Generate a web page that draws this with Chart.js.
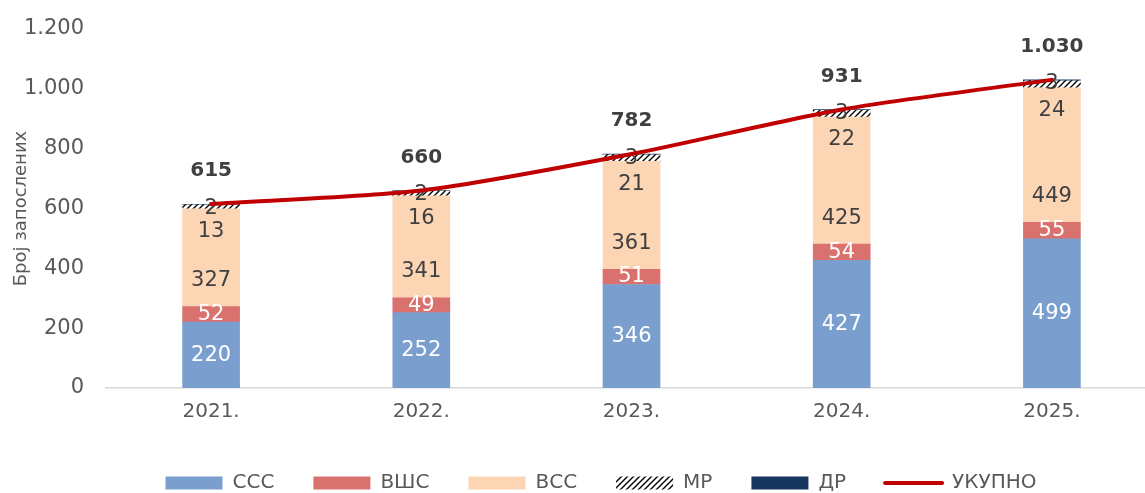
<!DOCTYPE html>
<html>
<head>
<meta charset="utf-8">
<script src="https://cdn.jsdelivr.net/npm/chart.js@4.4.1/dist/chart.umd.min.js"></script>
<style>
html, body { margin: 0; padding: 0; background: #fff; overflow: hidden; }
#wrap { width: 1160px; height: 493px; }
</style>
</head>
<body>
<div id="wrap"><canvas id="chart" width="1160" height="493"></canvas></div>
<script>
// values
var years = ['2021.', '2022.', '2023.', '2024.', '2025.'];
var sss = [220, 252, 346, 427, 499];     // ССС
var vshs = [52, 49, 51, 54, 55];         // ВШС
var vss = [327, 341, 361, 425, 449];     // ВСС
var mr = [13, 16, 21, 22, 24];           // МР
var dr = [2, 2, 3, 3, 3];                // ДР
var total = [615, 660, 782, 931, 1030];  // УКУПНО

var FONT = 'DejaVu Sans';
var GREY = '#595959';
var DARK = '#404040';

// 1030 -> "1.030"
function fmt(v) {
    return String(v).replace(/\B(?=(\d{3})+(?!\d))/g, '.');
}

// hatched fill for МР
function makeHatch(ctx) {
    var tile = document.createElement('canvas');
    tile.width = 6;
    tile.height = 6;
    var g = tile.getContext('2d');
    g.fillStyle = '#fff';
    g.fillRect(0, 0, 6, 6);
    g.strokeStyle = '#000';
    g.lineWidth = 1.4;
    g.beginPath();
    g.moveTo(0, 6); g.lineTo(6, 0);
    g.moveTo(-3, 3); g.lineTo(3, -3);
    g.moveTo(3, 9); g.lineTo(9, 3);
    g.stroke();
    return ctx.createPattern(tile, 'repeat');
}

// labels inside the bars; bar datasets are drawn last-to-first, so wait for
// dataset 0 and then write all of them (the line is drawn after that, on top)
var segLabels = {
    id: 'segLabels',
    afterDatasetDraw: function(chart, args) {
        if (args.index !== 0) return;
        var ctx = chart.ctx;
        ctx.save();
        ctx.textAlign = 'center';
        ctx.textBaseline = 'middle';
        ctx.font = '21px "' + FONT + '"';
        for (var i = 0; i < 5; i++) {
            var ds = chart.data.datasets[i];
            ctx.fillStyle = i < 2 ? '#ffffff' : DARK;
            chart.getDatasetMeta(i).data.forEach(function(el, j) {
                var y;
                if (i < 2) y = (el.y + el.base) / 2;
                else if (i === 2) y = el.base - 26;
                else if (i === 3) y = el.base + 23;
                else y = el.y + 4;
                ctx.fillText(fmt(ds.data[j]), el.x, y);
            });
        }
        ctx.restore();
    },
    afterDatasetsDraw: function(chart) {
        var ctx = chart.ctx;
        var meta = chart.getDatasetMeta(5);
        ctx.save();
        ctx.textAlign = 'center';
        ctx.textBaseline = 'middle';
        ctx.font = 'bold 20px "' + FONT + '"';
        ctx.fillStyle = DARK;
        meta.data.forEach(function(pt, j) {
            ctx.fillText(fmt(total[j]), pt.x, pt.y - 33);
        });
        ctx.restore();
    }
};

// move the legend to where the original has it
var legendPlace = {
    id: 'legendPlace',
    beforeDraw: function(chart) {
        var lg = chart.legend;
        lg.left = 42;
        lg.right = 1160;
        lg.top = 434;
    }
};

var canvas = document.getElementById('chart');
var hatch = makeHatch(canvas.getContext('2d'));

var chart = new Chart(canvas, {
    type: 'bar',
    data: {
        labels: years,
        datasets: [
            { label: 'ССС', data: sss, backgroundColor: '#7a9fcf', stack: 's', order: 1, barThickness: 57 },
            { label: 'ВШС', data: vshs, backgroundColor: '#d9716e', stack: 's', order: 1, barThickness: 57 },
            { label: 'ВСС', data: vss, backgroundColor: '#fcd5b4', stack: 's', order: 1, barThickness: 57 },
            { label: 'МР', data: mr, backgroundColor: hatch, stack: 's', order: 1, barThickness: 57 },
            { label: 'ДР', data: dr, backgroundColor: '#17375e', stack: 's', order: 1, barThickness: 57 },
            {
                label: 'УКУПНО', type: 'line', data: total, stack: 't', order: 0,
                borderColor: '#c00000', backgroundColor: '#c00000', borderWidth: 4,
                pointRadius: 0, tension: 0.25, borderCapStyle: 'round'
            }
        ]
    },
    options: {
        responsive: false,
        animation: false,
        layout: { padding: { top: 29, right: 3, left: 0, bottom: 0 } },
        plugins: {
            tooltip: { enabled: false },
            legend: {
                position: 'bottom',
                maxHeight: 65,
                labels: {
                    usePointStyle: true,
                    pointStyleWidth: 57,
                    boxHeight: 13,
                    padding: 39,
                    color: GREY,
                    font: { family: FONT, size: 20 },
                    generateLabels: function(chart) {
                        return chart.data.datasets.map(function(ds, i) {
                            var isLine = ds.type === 'line';
                            return {
                                text: ds.label,
                                fillStyle: isLine ? ds.borderColor : ds.backgroundColor,
                                strokeStyle: isLine ? ds.borderColor : ds.backgroundColor,
                                lineWidth: isLine ? 4 : 0,
                                lineCap: 'round',
                                pointStyle: isLine ? 'line' : 'rect',
                                fontColor: GREY,
                                hidden: false,
                                datasetIndex: i
                            };
                        });
                    }
                }
            }
        },
        scales: {
            x: {
                stacked: true,
                grid: { display: false, drawTicks: false },
                border: { display: true, color: '#d9d9d9', width: 1.5 },
                ticks: { color: GREY, font: { family: FONT, size: 20 }, padding: 12 },
                afterFit: function(s) { s.height = 40; }
            },
            y: {
                stacked: true,
                min: 0,
                max: 1200,
                grid: { display: false, drawTicks: false },
                border: { display: false },
                ticks: {
                    stepSize: 200,
                    color: GREY,
                    font: { family: FONT, size: 21 },
                    padding: 22,
                    callback: function(v) { return fmt(v); }
                },
                title: {
                    display: true,
                    text: 'Број запослених',
                    color: GREY,
                    font: { family: FONT, size: 18 },
                    padding: { top: 11, bottom: 0 }
                },
                afterFit: function(s) {
                    s.width = 106;
                    s.paddingTop = 0;
                    s.paddingBottom = 0;
                }
            }
        }
    },
    plugins: [segLabels, legendPlace]
});
</script>
</body>
</html>
